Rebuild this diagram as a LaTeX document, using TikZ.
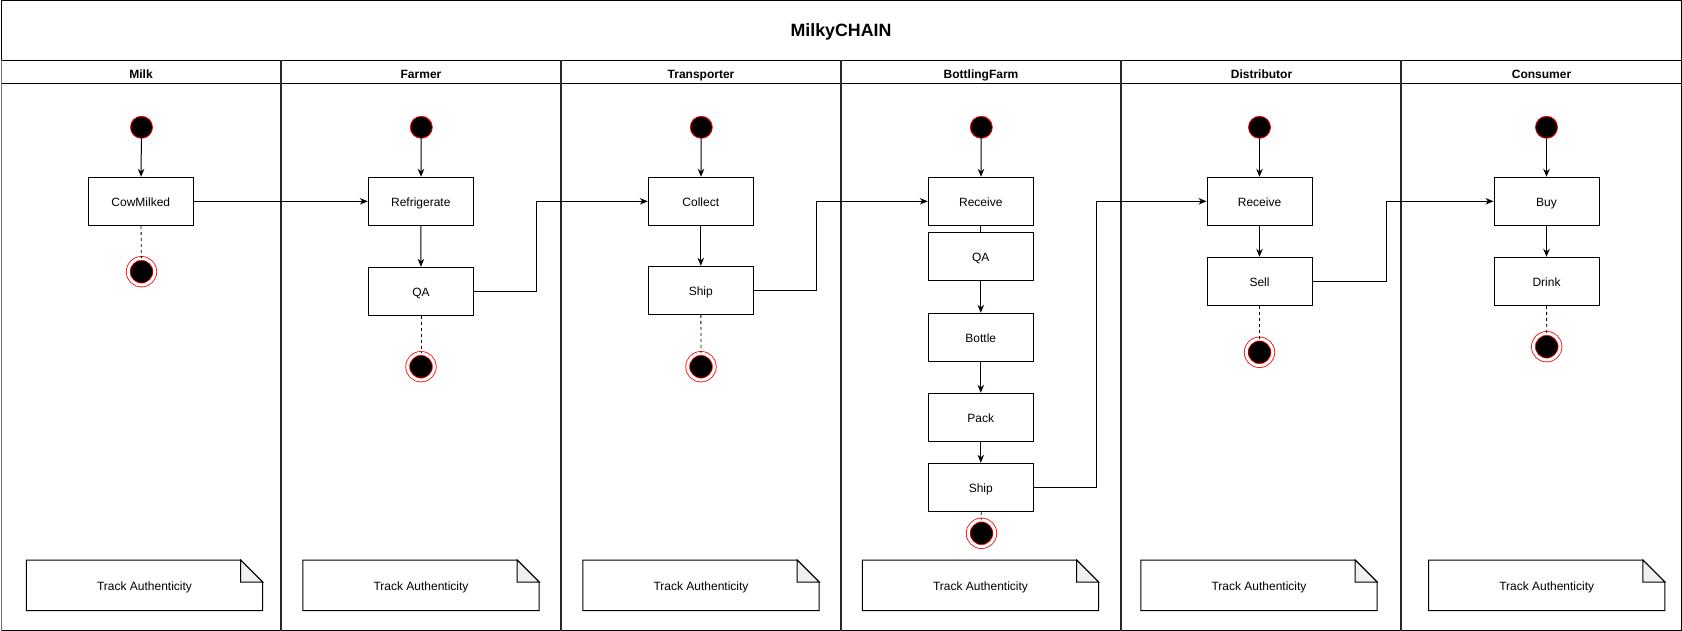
\documentclass[tikz,border=0pt]{standalone}
\usepackage{fontspec}
\setmainfont{Liberation Sans}
\usetikzlibrary{arrows.meta,calc}
\newcommand\drawnote[1]{%
  \draw[line width=1pt] (#1.north west) -- ($(#1.north east)+(-22pt,0pt)$) -- ($(#1.north east)+(0pt,-22pt)$) -- (#1.south east) -- (#1.south west) -- cycle;
  \filldraw[fill=black!6, line width=1pt] ($(#1.north east)+(-22pt,0pt)$) -- ($(#1.north east)+(-22pt,-22pt)$) -- ($(#1.north east)+(0pt,-22pt)$) -- cycle;}
\begin{document}
\begin{tikzpicture}[x=1pt,y=-1pt,
  act/.style={draw=black, line width=1pt, fill=white, minimum width=105pt, minimum height=48pt, inner sep=0pt, text height=10.4pt, text depth=0pt, font=\fontsize{12}{14}\selectfont},
  initst/.style={circle, fill=black, draw=red, line width=0.8pt, minimum size=22pt, inner sep=0pt},
  finalst/.style={circle, fill=black, draw=red, line width=0.8pt, double=white, double distance=3pt, minimum size=26.6pt, inner sep=0pt},
  notest/.style={minimum width=236pt, minimum height=50pt, inner sep=0pt, text height=9.6pt, text depth=0pt, font=\fontsize{12}{14}\selectfont},
  flowarrow/.style={line width=1pt, -{Stealth[length=8pt,width=6.5pt]}},
  plainline/.style={line width=1pt},
  endline/.style={line width=0.8pt, dash pattern=on 3pt off 3pt},
  lanehead/.style={anchor=base, inner sep=0pt, font=\bfseries\fontsize{12}{14}\selectfont},
  laneline/.style={line width=1.6pt, draw=black!85},
]
\useasboundingbox (0,0) rectangle (1682,631);
\fill[white] (0,0) rectangle (1682,631);
% frame
\draw[line width=1pt] (1,0.5) rectangle (1681.5,630.5);
\draw[line width=1pt] (1,60.5) -- (1681.5,60.5);
\draw[line width=1pt] (1,83.5) -- (1681.5,83.5);
\foreach \xx in {281,561,841,1121,1401} \draw[laneline] (\xx,60.5) -- (\xx,630.5);
\draw[line width=1.6pt, draw=black!55] (1.5,60.5) -- (1.5,630.5);
% titles
\node[anchor=base, inner sep=0pt, font=\bfseries\fontsize{17.8}{20}\selectfont] (title) at (841,36.7) {MilkyCHAIN};
\node[lanehead] (h1) at (141,78.3) {Milk};
\node[lanehead] (h2) at (421,78.3) {Farmer};
\node[lanehead] (h3) at (701,78.3) {Transporter};
\node[lanehead] (h4) at (981,78.3) {BottlingFarm};
\node[lanehead] (h5) at (1261.5,78.3) {Distributor};
\node[lanehead] (h6) at (1541.5,78.3) {Consumer};
% Milk
\node[initst] (i1) at (141.5,127.3) {};
\node[act] (cow) at (140.8,201.3) {CowMilked};
\node[finalst] (f1) at (141.5,271.7) {};
% Farmer
\node[initst] (i2) at (421.3,127.3) {};
\node[act] (refr) at (420.8,201.3) {Refrigerate};
\node[act] (qa1) at (421,291.3) {QA};
\node[finalst] (f2) at (421,366.7) {};
% Transporter
\node[initst] (i3) at (701.3,127.3) {};
\node[act] (coll) at (700.8,201.3) {Collect};
\node[act] (ship1) at (700.8,290.3) {Ship};
\node[finalst] (f3) at (701,366.7) {};
% BottlingFarm
\node[initst] (i4) at (981.3,127.3) {};
\node[act] (recv1) at (980.8,201.3) {Receive};
\node[act] (qa2) at (980.8,256.3) {QA};
\node[act] (bott) at (980.8,337.3) {Bottle};
\node[act] (pack) at (980.8,417.3) {Pack};
\node[act] (ship2) at (980.8,487.3) {Ship};
\node[finalst] (f4) at (981.5,533.3) {};
% Distributor
\node[initst] (i5) at (1259.5,127.3) {};
\node[act] (recv2) at (1259.5,201.3) {Receive};
\node[act] (sell) at (1259.5,281.3) {Sell};
\node[finalst] (f5) at (1259.5,352.3) {};
% Consumer
\node[initst] (i6) at (1546.5,127.3) {};
\node[act] (buy) at (1546.5,201.3) {Buy};
\node[act] (drink) at (1546.5,281.3) {Drink};
\node[finalst] (f6) at (1546.7,346.7) {};
% notes
\node[notest] (n1) at (144.5,585.3) {Track Authenticity};
\node[notest] (n2) at (421,585.3) {Track Authenticity};
\node[notest] (n3) at (701,585.3) {Track Authenticity};
\node[notest] (n4) at (980.5,585.3) {Track Authenticity};
\node[notest] (n5) at (1259,585.3) {Track Authenticity};
\node[notest] (n6) at (1546.7,585.3) {Track Authenticity};
\drawnote{n1}\drawnote{n2}\drawnote{n3}\drawnote{n4}\drawnote{n5}\drawnote{n6}
% bend coordinates
\coordinate (b1) at (536.3,291.3);
\coordinate (b2) at (816.3,290.3);
\coordinate (b3) at (1096.3,487.3);
\coordinate (b4) at (1386.7,281.3);
% connectors
\draw[flowarrow] (i1) -- (cow);
\draw[endline] (cow) -- (f1);
\draw[flowarrow] (cow) -- (refr);
\draw[flowarrow] (i2) -- (refr);
\draw[flowarrow] (refr) -- (qa1);
\draw[endline] (qa1) -- (f2);
\draw[flowarrow] (qa1.east) -- (b1) |- (coll.west);
\draw[flowarrow] (i3) -- (coll);
\draw[flowarrow] (coll) -- (ship1);
\draw[endline] (ship1) -- (f3);
\draw[flowarrow] (ship1.east) -- (b2) |- (recv1.west);
\draw[flowarrow] (i4) -- (recv1);
\draw[plainline] (recv1) -- (qa2);
\draw[flowarrow] (qa2) -- (bott);
\draw[flowarrow] (bott) -- (pack);
\draw[flowarrow] (pack) -- (ship2);
\draw[endline] (ship2) -- (f4);
\draw[flowarrow] (ship2.east) -- (b3) |- (recv2.west);
\draw[flowarrow] (i5) -- (recv2);
\draw[flowarrow] (recv2) -- (sell);
\draw[endline] (sell) -- (f5);
\draw[flowarrow] (sell.east) -- (b4) |- (buy.west);
\draw[flowarrow] (i6) -- (buy);
\draw[flowarrow] (buy) -- (drink);
\draw[endline] (drink) -- (f6);
\end{tikzpicture}
\end{document}
